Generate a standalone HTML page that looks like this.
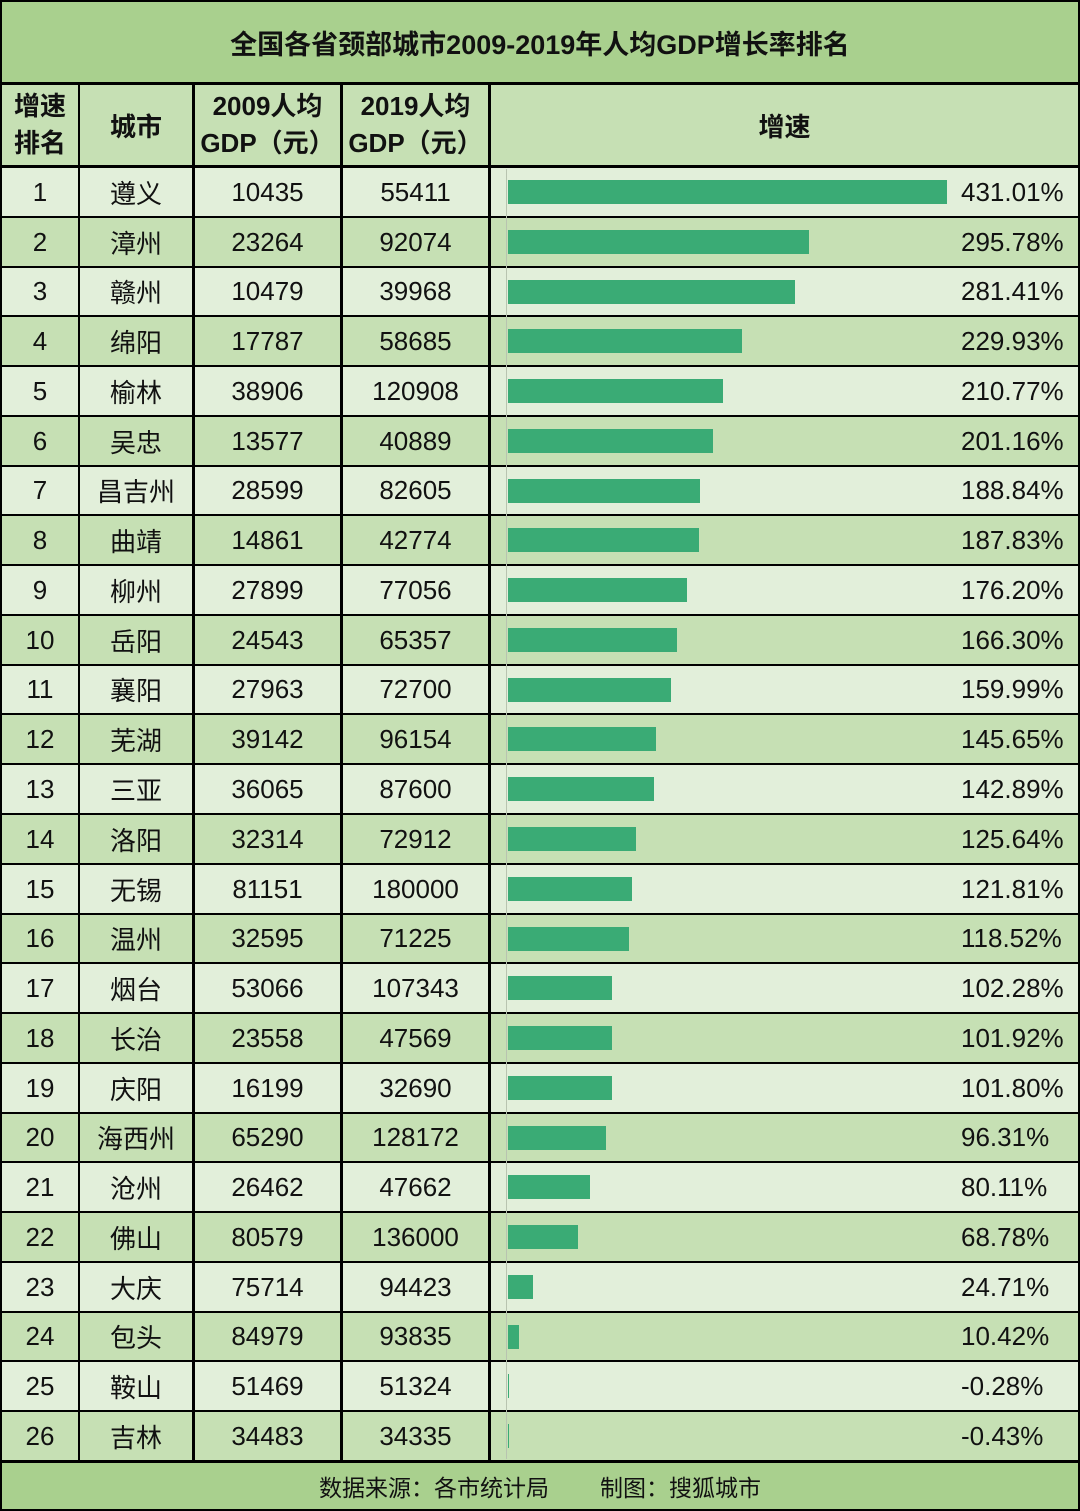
<!DOCTYPE html>
<html><head><meta charset="utf-8"><style>
body{margin:0;width:1080px;height:1511px;overflow:hidden;background:#000;font-family:"Liberation Sans","Noto Sans CJK SC",sans-serif;}
#wrap{position:relative;width:1080px;height:1511px;background:#000;}
.c{position:absolute;display:flex;align-items:center;justify-content:center;font-size:26px;color:#111;box-sizing:border-box;}
.b{font-weight:bold;}
</style></head><body>
<div id="wrap">
<div class="c b" style="left:2px;top:2px;width:1076px;height:80px;background:#a9d08e;font-size:27px;">全国各省颈部城市2009-2019年人均GDP增长率排名</div>
<div class="c b" style="left:2px;top:85px;width:76px;height:80px;background:#c6e0b4;line-height:37px;text-align:center;">增速<br>排名</div>
<div class="c b" style="left:80px;top:85px;width:112px;height:80px;background:#c6e0b4;">城市</div>
<div class="c b" style="left:195px;top:85px;width:145px;height:80px;background:#c6e0b4;line-height:37px;text-align:center;">2009人均<br>GDP（元）</div>
<div class="c b" style="left:343px;top:85px;width:145px;height:80px;background:#c6e0b4;line-height:37px;text-align:center;">2019人均<br>GDP（元）</div>
<div class="c b" style="left:491px;top:85px;width:587px;height:80px;background:#c6e0b4;">增速</div>
<div class="c" style="left:2px;top:1463px;width:1076px;height:46px;background:#a9d08e;font-size:23px;white-space:pre;">数据来源：各市统计局        制图：搜狐城市</div>
</div>
<script>
const cities=["遵义","漳州","赣州","绵阳","榆林","吴忠","昌吉州","曲靖","柳州","岳阳","襄阳","芜湖","三亚","洛阳","无锡","温州","烟台","长治","庆阳","海西州","沧州","佛山","大庆","包头","鞍山","吉林"];
const gdp2009=[10435,23264,10479,17787,38906,13577,28599,14861,27899,24543,27963,39142,36065,32314,81151,32595,53066,23558,16199,65290,26462,80579,75714,84979,51469,34483];
const gdp2019=[55411,92074,39968,58685,120908,40889,82605,42774,77056,65357,72700,96154,87600,72912,180000,71225,107343,47569,32690,128172,47662,136000,94423,93835,51324,34335];
const growth=[431.01,295.78,281.41,229.93,210.77,201.16,188.84,187.83,176.20,166.30,159.99,145.65,142.89,125.64,121.81,118.52,102.28,101.92,101.80,96.31,80.11,68.78,24.71,10.42,-0.28,-0.43];
const wrap=document.getElementById('wrap');
const x0=508, scale=439/431.01;
const xs=v=>x0+v*scale;
const top0=167, rh=(1461-167)/26;
function cell(l,t,w,h,bg,txt,name){
  const d=document.createElement('div');d.className='c';
  d.style.cssText=`left:${l}px;top:${t}px;width:${w}px;height:${h}px;background:${bg};`;
  d.textContent=txt;
  
  
  wrap.appendChild(d);return d;
}
growth.forEach((g,i)=>{
  const t=Math.round(top0+i*rh)+1, b=Math.round(top0+(i+1)*rh)-1, h=b-t;
  const bg=i%2===0?'#e2efda':'#c6e0b4';
  cell(2,t,76,h,bg,String(i+1),'rank-cell');
  cell(80,t,112,h,bg,cities[i],'city-cell');
  cell(195,t,145,h,bg,String(gdp2009[i]),'gdp-2009-cell');
  cell(343,t,145,h,bg,String(gdp2019[i]),'gdp-2019-cell');
  const gc=cell(491,t,587,h,bg,'','growth-cell');
  const bar=document.createElement('div');
  const x1=xs(Math.max(g,0)), xa=xs(Math.min(g,0));
  bar.style.cssText=`position:absolute;left:${xa-491}px;top:${h/2-12}px;width:${Math.max(x1-xa,1)}px;height:24px;background:#3aab75;`;
  
  
  gc.appendChild(bar);
  const lab=document.createElement('div');
  lab.style.cssText=`position:absolute;left:${961-491}px;top:0;height:${h}px;display:flex;align-items:center;font-size:26px;`;
  lab.textContent=g.toFixed(2)+'%';
  
  
  gc.appendChild(lab);
});
const ax=document.createElement('div');
ax.style.cssText=`position:absolute;left:${x0-2}px;top:${top0+2}px;width:1px;height:${1461-top0-4}px;background:#b8c4b0;`;


wrap.appendChild(ax);
</script>
</body></html>
